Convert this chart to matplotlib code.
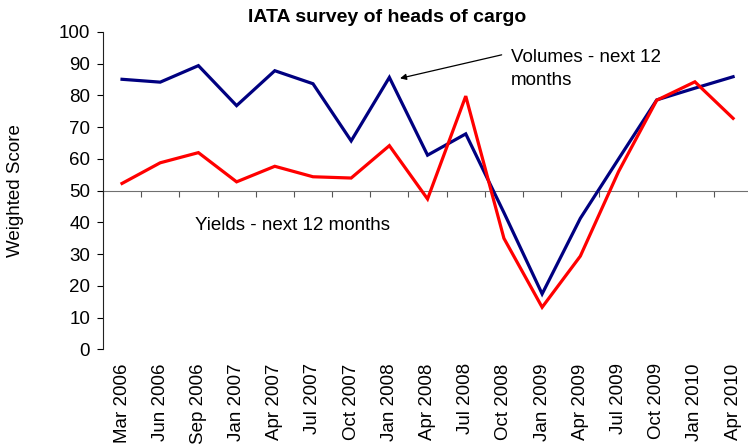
import matplotlib.pyplot as plt

plt.rcParams['font.family'] = ['Liberation Sans', 'DejaVu Sans']

months = ['Mar 2006', 'Jun 2006', 'Sep 2006', 'Jan 2007', 'Apr 2007', 'Jul 2007',
          'Oct 2007', 'Jan 2008', 'Apr 2008', 'Jul 2008', 'Oct 2008', 'Jan 2009',
          'Apr 2009', 'Jul 2009', 'Oct 2009', 'Jan 2010', 'Apr 2010']
volumes = [85.1, 84.2, 89.4, 76.8, 87.8, 83.7, 65.7, 85.7, 61.2, 67.9,
           43.1, 17.5, 41.3, 60.0, 78.6, 82.3, 85.9]
yields = [52.3, 58.8, 62.0, 52.8, 57.7, 54.4, 54.0, 64.2, 47.4, 79.8,
          35.0, 13.3, 29.4, 56.0, 78.5, 84.3, 72.8]
y_ticks = [0, 10, 20, 30, 40, 50, 60, 70, 80, 90, 100]

x = list(range(len(months)))
bounds = [i - 0.5 for i in range(len(months) + 1)]

fig = plt.figure(figsize=(7.48, 4.46), dpi=100)
ax = fig.add_axes([0.1376, 0.2164, 0.868, 0.7119])

ax.plot(x, volumes, color='#000080', lw=2.3, solid_joinstyle='miter')
ax.plot(x, yields, color='#FF0000', lw=2.3, solid_joinstyle='miter')

ax.set_xlim(-0.5, len(months) - 0.5)
ax.set_ylim(0, 100)
ax.set_yticks(y_ticks)
ax.tick_params(axis='y', direction='out', length=4.3, width=0.8, pad=5, labelsize=13.5)
ax.set_xticks(x)
ax.set_xticklabels(months, rotation=90, va='top', ha='center')
ax.tick_params(axis='x', length=0, pad=10, labelsize=13.5)

for s in ['top', 'right', 'bottom']:
    ax.spines[s].set_visible(False)
ax.spines['left'].set_color('#222222')

# category axis crosses the value axis at 50
sec = ax.secondary_xaxis(0.5)
sec.set_xticks(bounds)
sec.set_xticklabels([])
sec.xaxis.set_ticks_position('bottom')
sec.tick_params(direction='out', length=4.5, width=0.8, color='#555555')
for s in sec.spines.values():
    s.set_color('#707070')

ax.set_ylabel('Weighted Score', fontsize=13.5)
ax.yaxis.set_label_coords(-0.1215, 0.5)

fig.text(0.518, 1 - 18 / 446, 'IATA survey of heads of cargo', ha='center', va='center',
         fontsize=14, fontweight='bold')

ax.annotate('', xy=(7.28, 85.4), xytext=(9.94, 92.8),
            arrowprops=dict(arrowstyle='-|>', color='black', lw=0.9,
                            mutation_scale=9, shrinkA=0, shrinkB=0))
ax.text(10.19, 94.6, 'Volumes - next 12\nmonths', ha='left', va='top',
        fontsize=13.5, linespacing=1.45)
ax.text(1.91, 38.9, 'Yields - next 12 months', ha='left', va='center', fontsize=13.5)

fig.savefig('out.png', dpi=100)
